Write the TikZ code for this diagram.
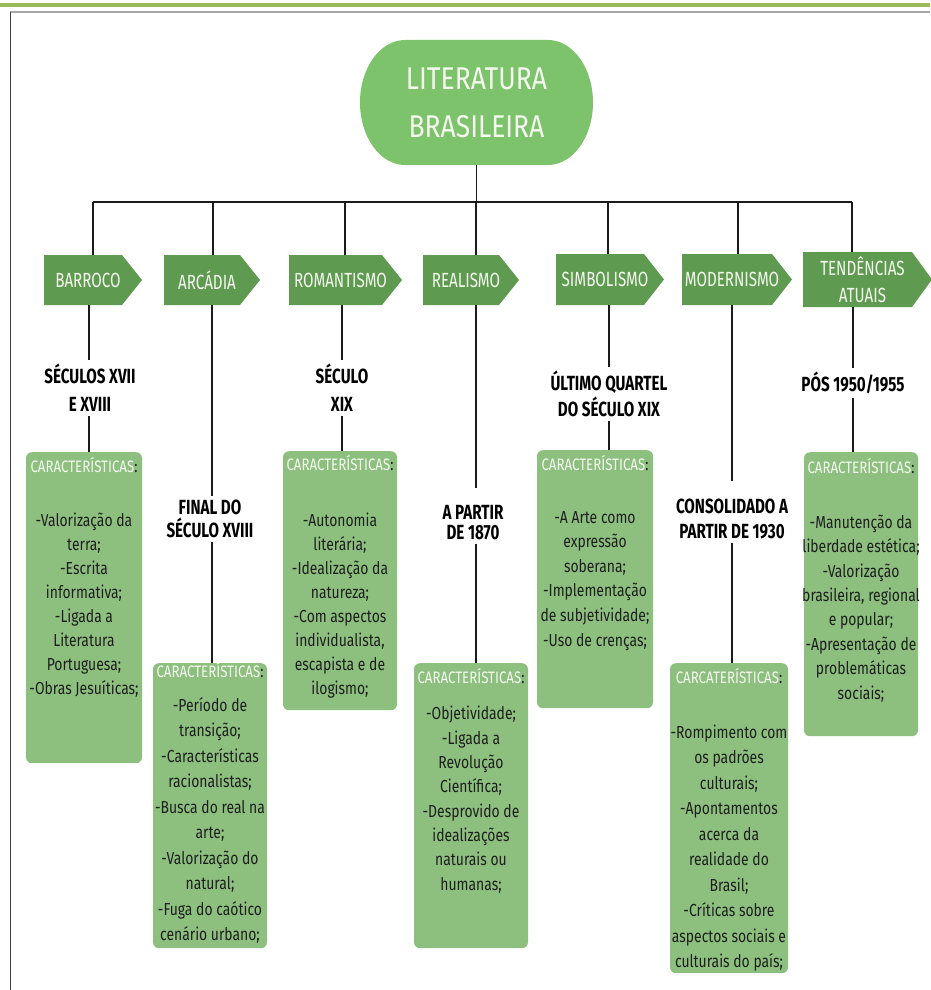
\documentclass[tikz,border=0pt]{standalone}
\usepackage{fontspec}
\usetikzlibrary{calc}
\setmainfont{Fira Sans}[FakeStretch=0.8]
\newfontfamily\banf{Fira Sans}[FakeStretch=0.74]
\newfontfamily\labf{Fira Sans}[FakeStretch=0.74]
\newfontfamily\titf{Fira Sans}[FakeStretch=0.84]
\definecolor{topband}{HTML}{9BBB59}
\definecolor{frameclr}{HTML}{A6A6A6}
\definecolor{titlefill}{HTML}{7DC36B}
\definecolor{banfill}{HTML}{5F9A51}
\definecolor{boxfill}{HTML}{8DC07F}
\definecolor{lighttxt}{HTML}{F4F8EF}
\definecolor{bodyclr}{HTML}{1E1E1E}
\definecolor{lineclr}{HTML}{1A1A1A}
\tikzset{
  conn/.style={draw=lineclr, line width=1.9pt},
  bantxt/.style={text=lighttxt, font=\banf\fontsize{20.5}{27}\selectfont, align=center, inner sep=0pt},
  lab/.style={font=\labf\bfseries\fontsize{20.5}{#1}\selectfont, align=center, text=black, inner xsep=0pt, inner ysep=4pt},
  lab/.default=26,
  cbox/.style={fill=boxfill, rounded corners=6pt, inner sep=0pt, anchor=north},
  hdr/.style={font=\fontsize{16.6}{20}\selectfont, text=bodyclr, inner sep=0pt, anchor=base},
  bodytxt/.style={font=\fontsize{17.4}{#1}\selectfont, text=bodyclr, align=center, inner sep=0pt, anchor=base},
  bodytxt/.default=24.5
}
\newcommand\mybanner[6]{%
  \fill[banfill] (#2,#4) -- ({#3-20},#4) -- (#3,{(#4+#5)/2}) -- ({#3-20},#5) -- (#2,#5) -- cycle;
  \node[bantxt, minimum height={#5-#4}] (#1) at ({(#2+#3-10)/2},{(#4+#5)/2}) {#6};
}
\newcommand\hdrtext[1]{\textcolor{lighttxt}{#1}:}
\begin{document}
\begin{tikzpicture}[x=1pt, y=-1pt]
\useasboundingbox (0,0) rectangle (930,990);
\fill[white] (0,0) rectangle (930,990);
% page frame
\fill[topband] (0,3) rectangle (930,7.5);
\draw[frameclr, line width=2pt] (10,12) -- (930,12);
\draw[black!75, line width=1pt] (10,12) -- (10,990);

% title
\fill[titlefill] (405,40) -- (548,40)
  arc[start angle=-90, end angle=90, x radius=45, y radius=62.5]
  -- (405,165)
  arc[start angle=90, end angle=270, x radius=45, y radius=62.5] -- cycle;
\node[text=lighttxt, font=\titf\fontsize{31.5}{48}\selectfont, align=center,
  inner sep=0pt, minimum height=125] (title) at (476.5,102.5) {LITERATURA\\BRASILEIRA};

% hub and top connectors
\coordinate (hub) at (476.5,202);
\coordinate (c1) at (93,202);
\coordinate (c2) at (213,202);
\coordinate (c3) at (345,202);
\coordinate (c4) at (476,202);
\coordinate (c5) at (608,202);
\coordinate (c6) at (738,202);
\coordinate (c7) at (852,202);
\draw[conn] (title.south) -- (hub);
\draw[conn] (c1) -- (c7);

% banners
\mybanner{b1}{44}{142}{255}{305}{BARROCO}
\mybanner{b2}{164}{260}{255}{305}{ARCÁDIA}
\mybanner{b3}{289}{402}{255}{305}{ROMANTISMO}
\mybanner{b4}{423}{519}{255}{305}{REALISMO}
\mybanner{b5}{556}{664}{254}{305}{SIMBOLISMO}
\mybanner{b6}{682}{792}{254}{305}{MODERNISMO}
\mybanner{b7}{803}{932}{252}{307}{TENDÊNCIAS\\ATUAIS}

\foreach \i in {1,...,7} {\draw[conn] (c\i) -- (c\i |- b\i.north);}

% lower connector x positions
\coordinate (l1) at (89,0);
\coordinate (l2) at (212,0);
\coordinate (l3) at (342,0);
\coordinate (l4) at (476,0);
\coordinate (l5) at (609,0);
\coordinate (l6) at (732,0);
\coordinate (l7) at (853,0);

% date labels
\node[lab=28] (d1) at (90,388) {SÉCULOS XVII\\E XVIII};
\node[lab=23] (d2) at (210,519) {FINAL DO\\SÉCULO XVIII};
\node[lab=28] (d3) at (342,388) {SÉCULO\\XIX};
\node[lab=20] (d4) at (473,523) {A PARTIR\\DE 1870};
\node[lab=26] (d5) at (609,394) {ÚLTIMO QUARTEL\\DO SÉCULO XIX};
\node[lab=25] (d6) at (732,519) {CONSOLIDADO A\\PARTIR DE 1930};
\node[lab] (d7) at (853,383) {PÓS 1950/1955};

% boxes
\node[cbox, minimum width=116, minimum height=311] (k1) at (84,452) {};
\node[cbox, minimum width=114, minimum height=285] (k2) at (210,663) {};
\node[cbox, minimum width=114, minimum height=259] (k3) at (340,451) {};
\node[cbox, minimum width=114, minimum height=285] (k4) at (471,663) {};
\node[cbox, minimum width=116, minimum height=258] (k5) at (595,450) {};
\node[cbox, minimum width=118, minimum height=310] (k6) at (729,663) {};
\node[cbox, minimum width=114, minimum height=284] (k7) at (861,452) {};

% connectors banner -> label -> box
\foreach \i in {1,2,3,5,7} {
  \draw[conn] (l\i |- b\i.south) -- (l\i |- d\i.north);
  \draw[conn] (l\i |- d\i.south) -- (l\i |- k\i.north);
}
\draw[conn] (l4 |- b4.south) -- ($(l4 |- d4.north)+(0,-14)$);
\draw[conn] (l4 |- d4.south) -- (l4 |- k4.north);
\draw[conn] (l6 |- b6.south) -- ($(l6 |- d6.north)+(0,-14)$);
\draw[conn] (l6 |- d6.south) -- (l6 |- k6.north);

% headers
\node[hdr] (h1) at (84,472.5) {\hdrtext{CARACTERÍSTICAS}};
\node[hdr] (h2) at (210,677.5) {\hdrtext{CARACTERÍSTICAS}};
\node[hdr] (h3) at (340,470.5) {\hdrtext{CARACTERÍSTICAS}};
\node[hdr] (h4) at (471,683.5) {\hdrtext{CARACTERÍSTICAS}};
\node[hdr] (h5) at (595,470.5) {\hdrtext{CARACTERÍSTICAS}};
\node[hdr] (h6) at (729,683.5) {\hdrtext{CARCATERÍSTICAS}};
\node[hdr] (h7) at (861,473.5) {\hdrtext{CARACTERÍSTICAS}};

% body texts (anchor = baseline of last line)
\node[bodytxt=24] (t1) at (84,694) {-Valorização da\\terra;\\-Escrita\\informativa;\\-Ligada a\\Literatura\\Portuguesa;\\-Obras Jesuíticas;};
\node[bodytxt=25.5] (t2) at (210,940.5) {-Período de\\transição;\\-Características\\racionalistas;\\-Busca do real na\\arte;\\-Valorização do\\natural;\\-Fuga do caótico\\cenário urbano;};
\node[bodytxt=24] (t3) at (340,694) {-Autonomia\\literária;\\-Idealização da\\natureza;\\-Com aspectos\\individualista,\\escapista e de\\ilogismo;};
\node[bodytxt=24.3] (t4) at (471,890) {-Objetividade;\\-Ligada a\\Revolução\\Científica;\\-Desprovido de\\idealizações\\naturais ou\\humanas;};
\node[bodytxt=24.6] (t5) at (595,646) {-A Arte como\\expressão\\soberana;\\-Implementação\\de subjetividade;\\-Uso de crenças;};
\node[bodytxt=25.5] (t6) at (729,967.5) {-Rompimento com\\os padrões\\culturais;\\-Apontamentos\\acerca da\\realidade do\\Brasil;\\-Críticas sobre\\aspectos sociais e\\culturais do país;};
\node[bodytxt=24.4] (t7) at (861,699) {-Manutenção da\\liberdade estética;\\-Valorização\\brasileira, regional\\e popular;\\-Apresentação de\\problemáticas\\sociais;};
\end{tikzpicture}
\end{document}
